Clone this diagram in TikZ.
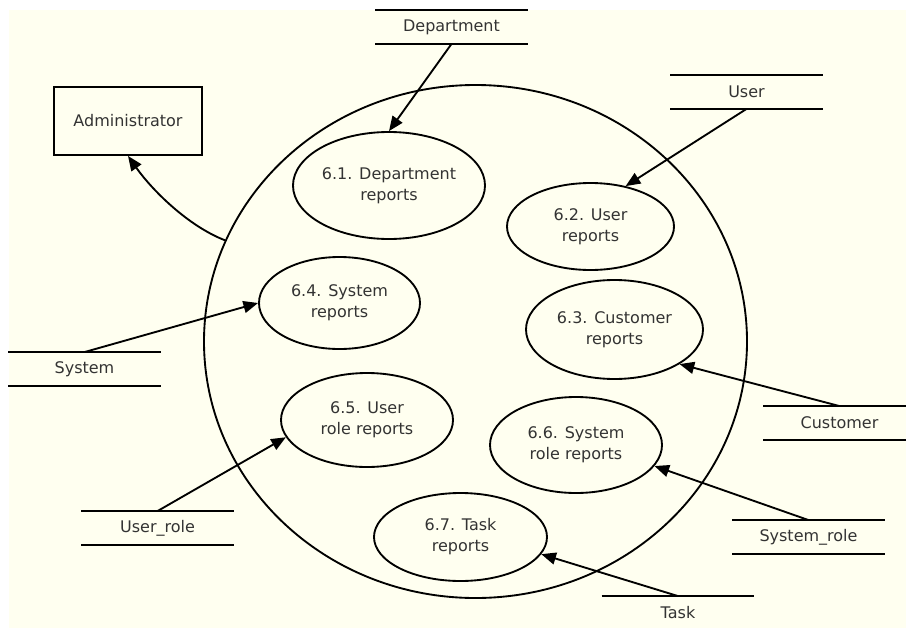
\documentclass[tikz,border=0pt]{standalone}
\usepackage{fontspec}
\setmainfont{DejaVu Sans}
\usetikzlibrary{shapes,arrows.meta}
\definecolor{paper}{RGB}{255,255,240}

\begin{document}
\begin{tikzpicture}[x=0.75pt, y=-0.75pt, line width=1.4pt, font=\fontsize{12}{15.75}\selectfont, >={Triangle[length=11pt,width=9pt]}]
\tikzstyle{vertexr}=[rectangle, draw, minimum width=111pt, minimum height=51pt, inner sep=2pt, text=black!80]
\tikzstyle{vertexe}=[ellipse, draw, align=center, inner sep=0pt, text=black!80]
\tikzstyle{vertexs}=[rectangle, minimum width=113.25pt, minimum height=24pt, inner sep=0pt, text=black!80,
  append after command={(\tikzlastnode.north west) edge (\tikzlastnode.north east)
                        (\tikzlastnode.south west) edge (\tikzlastnode.south east)}]
\tikzstyle{vertext}=[rectangle, minimum width=113.25pt, minimum height=24pt, inner sep=0pt, text=black!80,
  append after command={(\tikzlastnode.north west) edge (\tikzlastnode.north east)}]
\tikzstyle{drawstyle}=[->]

\useasboundingbox (0,0) rectangle (906,628);
\fill[paper] (9,10) rectangle (906,628);

\node[vertexr] (A0) at (128,121) {Administrator};
\node[ellipse, draw, minimum width=407.25pt, minimum height=384.75pt] (B0) at (475.5,341.5) {};

\node[vertexe, minimum width=144pt, minimum height=80.25pt] (P6x1) at (389,185.5) {6.1. Department\\reports};
\node[vertexe, minimum width=125.25pt, minimum height=65.25pt] (P6x2) at (590.5,226.5) {6.2. User\\reports};
\node[vertexe, minimum width=132.75pt, minimum height=74.25pt] (P6x3) at (614.5,329.5) {6.3. Customer\\reports};
\node[vertexe, minimum width=120.75pt, minimum height=69pt] (P6x4) at (339.5,303) {6.4. System\\reports};
\node[vertexe, minimum width=129pt, minimum height=70.5pt] (P6x5) at (367,420) {6.5. User\\role reports};
\node[vertexe, minimum width=129pt, minimum height=72pt] (P6x6) at (576,445) {6.6. System\\role reports};
\node[vertexe, minimum width=129.75pt, minimum height=66pt] (P6x7) at (460.5,537) {6.7. Task\\reports};

\node[vertexs] (D1) at (451.5,27) {Department};
\node[vertexs] (D2) at (746.5,92) {User};
\node[vertexs] (D3) at (839.5,423) {Customer};
\node[vertexs] (D4) at (84.5,369) {System};
\node[vertexs] (D5) at (157.5,528) {User\_role};
\node[vertexs] (D6) at (808.5,537) {System\_role};
\node[vertext] (D7) at (678,613) {Task};

\draw[drawstyle] (D1.south) -- (P6x1.north);
\draw[drawstyle] (D2.south) -- (P6x2.49);
\draw[drawstyle] (D3.north) -- (P6x3.332);
\draw[drawstyle] (D4.north) -- (P6x4.west);
\draw[drawstyle] (D5.north) -- (P6x5.192);
\draw[drawstyle] (D6.north) -- (P6x6.345);
\draw[drawstyle] (D7.north) -- (P6x7.348);
\draw[drawstyle] (B0.158) .. controls (188,226) and (152,190) .. (A0.south);
\end{tikzpicture}
\end{document}
